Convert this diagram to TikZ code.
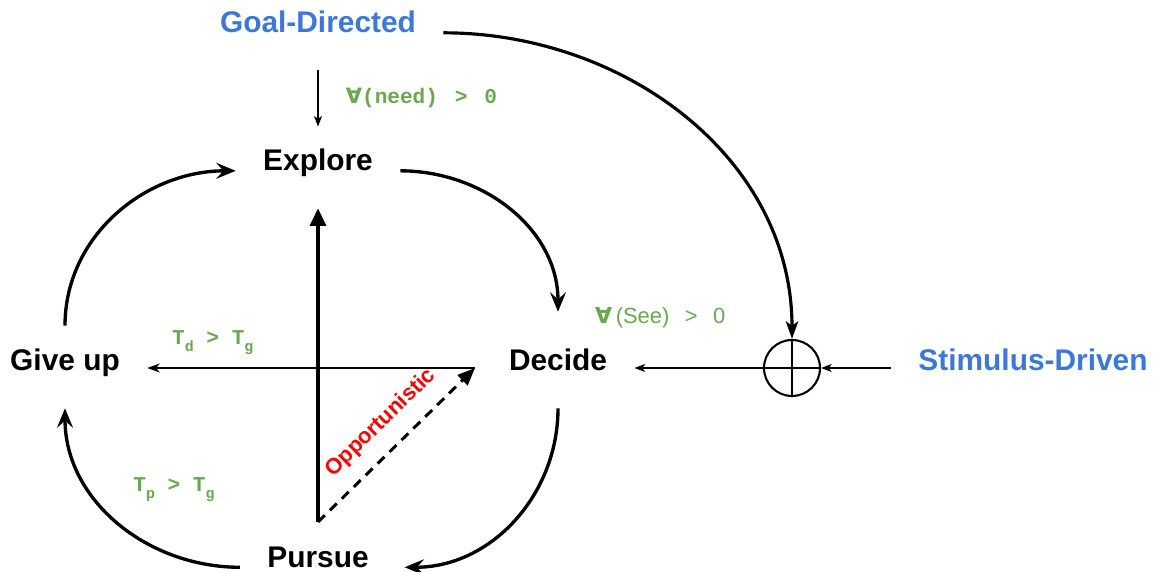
\documentclass[tikz,border=0pt]{standalone}
\usepackage{fontspec}
\setmainfont{Liberation Sans}
\setmonofont{Liberation Mono}
\newfontfamily\symfont{DejaVu Sans}
\usetikzlibrary{arrows.meta, positioning}
\definecolor{driverblue}{RGB}{60,120,216}
\definecolor{condgreen}{RGB}{106,168,79}
\tikzset{
  stage/.style={font=\bfseries\fontsize{17}{20}\selectfont, inner sep=0pt, text depth=0pt,
    outer xsep=0.55cm, outer ysep=0.75cm},
  driver/.style={stage, text=driverblue}
}
\tikzset{
  condlabel/.style={font=\ttfamily\bfseries\fontsize{12}{14}\selectfont, text=condgreen, inner sep=0pt},
  looparc/.style={line width=1.9pt, -{Stealth[length=11pt,width=9pt,inset=4pt]}},
  thinarrow/.style={line width=0.9pt, -{Stealth[length=6pt,width=4.5pt,inset=1.5pt]}}
}
\newcommand{\forallsym}{{\symfont\bfseries ∀}}
\newcommand{\tsub}[1]{T\raisebox{-4pt}{\fontsize{8.5}{9}\selectfont #1}}

\begin{document}
\begin{tikzpicture}
      \useasboundingbox (0,0) rectangle (23.1,11.44);
      \node[stage] (explore) at (6.36,8.24) {Explore};
      \node[stage] (decide) at (11.16,4.24) {Decide};
      \node[stage] (giveup) at (1.30,4.24) {Give up};
      \node[stage] (pursue) at (6.36,0.30) {Pursue};
      \node[driver] (goal) at (6.36,11.0) {Goal-Directed};
      \node[driver] (stimulus) at (20.66,4.24) {Stimulus-Driven};
      \node[draw, circle, line width=1.2pt, minimum size=1.12cm, inner sep=0pt] (sum) at (15.84,4.08) {};
      \draw[line width=1.2pt] (sum.north) -- (sum.south) (sum.west) -- (sum.east);
      \coordinate (base) at (6.36,1.0);
      \coordinate (tip) at (9.5,4.08);
      % the four stages, clockwise
      \draw[looparc] (explore.base east) to[out=0, in=90] (decide.north);
      \draw[looparc] (decide.south) to[out=-90, in=0] ([xshift=0.17cm]pursue.base east);
      \draw[looparc] (pursue.base west) to[out=180, in=-90] (giveup.south);
      \draw[looparc] ([yshift=-0.28cm]giveup.north) to[out=90, in=180] (explore.base west);
      % axes and the shortcut
      \draw[line width=2.1pt, -{Triangle[length=10pt,width=9pt]}] (base) -- (base |- explore.south);
      \draw[line width=1.1pt, -{Stealth[length=7pt,width=5pt,inset=2pt]}] (tip) -- (tip -| giveup.east)
        node[condlabel, pos=0.8, above=0.25cm] {\tsub{d} > \tsub{g}};
      \draw[line width=1.7pt, dash pattern=on 5.5pt off 4pt, -{Triangle[length=10pt,width=8pt]}] (base) -- (tip)
        node[pos=0.52, sloped, above=0.3cm, inner sep=0pt, text=red, font=\bfseries\fontsize{12.5}{14}\selectfont] {Opportunistic};
      \node[condlabel] (tpg) at (3.48,1.64) {\tsub{p} > \tsub{g}};
      % goal input
      \draw[thinarrow] (goal.south) -- ([yshift=-0.3cm]explore.north)
        node[condlabel, midway, right=0.54cm] {\forallsym(need)\hspace{0.8em}>\hspace{0.8em}0};
      \draw[line width=1.8pt, -{Stealth[length=10pt,width=7pt,inset=2.5pt]}] (goal.base east) to[out=0, in=90] (sum.north);
      % stimulus input
      \draw[thinarrow] (stimulus.west |- sum.east) -- (sum.east);
      \draw[thinarrow] (sum.west) -- (sum.west -| decide.east)
        node[pos=0.8, above=0.78cm, inner sep=0pt, text=condgreen, font=\fontsize{12.5}{14}\selectfont] {\forallsym\,(See)\hspace{0.7em}>\hspace{0.7em}0};
\end{tikzpicture}
\end{document}
